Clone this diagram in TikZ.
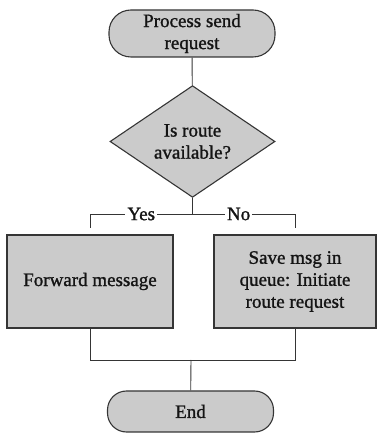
\documentclass[tikz,border=0pt]{standalone}
\usepackage{fontspec}
\setmainfont{Liberation Serif}[FakeBold=1.2]
\usetikzlibrary{shapes.geometric}
\definecolor{boxgray}{HTML}{CBCBCB}
\definecolor{edgegray}{HTML}{353535}
\definecolor{inkgray}{HTML}{141414}

\begin{document}
\begin{tikzpicture}[x=1pt,y=1pt,
  font=\fontsize{19}{22}\selectfont, text=inkgray,
  terminal/.style={draw=edgegray, fill=boxgray, line width=1.1pt,
    minimum width=166pt, align=center, inner sep=0pt},
  decision/.style={diamond, draw=edgegray, fill=boxgray, line width=1.1pt,
    minimum width=165pt, minimum height=93pt, align=center, inner sep=0pt},
  process/.style={draw=edgegray, fill=boxgray, line width=1.1pt,
    minimum height=93pt, align=center, inner sep=0pt},
  link/.style={draw=edgegray, line width=0.9pt},
  branch/.style={fill=white, inner sep=2pt}]
  \useasboundingbox (0,0) rectangle (377,436);

  \node[terminal, minimum height=47pt, rounded corners=22pt] (start) at (192,402.5) {Process send\\request};
  \node[decision] (decide) at (192.5,294.5) {Is route\\available?};
  \node[process, minimum width=166pt] (fwd) at (90,154.5) {Forward message};
  \node[process, minimum width=162pt] (save) at (295,154.5) {Save msg in\\queue: Initiate\\route request};
  \node[terminal, minimum height=41pt, rounded corners=19pt] (stop) at (190.5,24.5) {End};

  \coordinate (split) at (192.5,222); % fork under the decision
  \coordinate (merge) at (191,76);    % join above End

  \draw[link] (start) -- (decide);
  \draw[link] (decide) -- (split);
  \draw[link, shorten >=6pt] (split) -- node[branch]{Yes} (split -| fwd) -- (fwd);
  \draw[link, shorten >=6pt] (split) -- node[branch, pos=0.45]{No} (split -| save) -- (save);
  \draw[link] (fwd.south) -- (fwd.south |- merge) -- (save.south |- merge) -- (save.south);
  \draw[link] (merge) -- (stop);
\end{tikzpicture}
\end{document}
